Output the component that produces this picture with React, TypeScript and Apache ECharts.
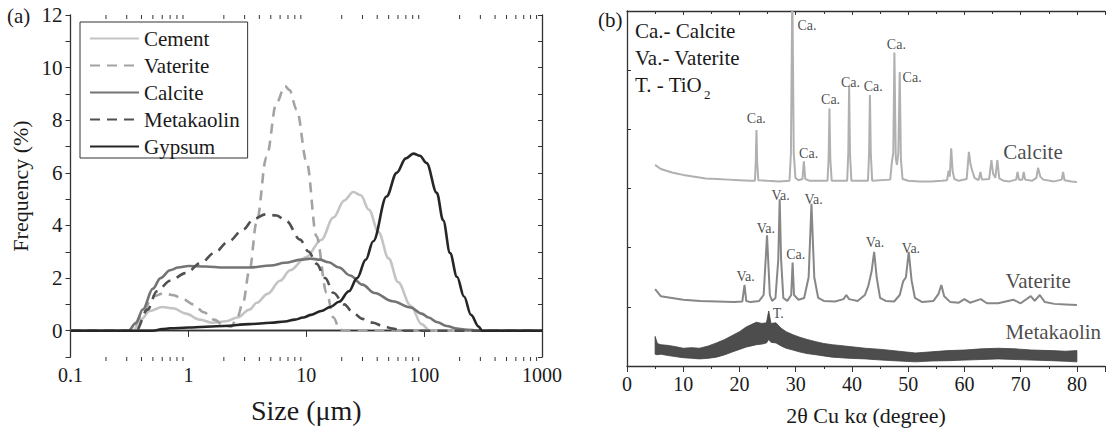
import React, { useEffect, useRef } from 'react';
import * as echarts from 'echarts';

const FONT = 'Liberation Serif';

// ---------- Panel (a): particle size distribution ----------
const seriesNamesA = ['Cement', 'Vaterite', 'Calcite', 'Metakaolin', 'Gypsum'];

const cement: [number, number][] = [
  [0.1, 0], [0.34, 0], [0.4, 0.45], [0.47, 0.75], [0.6, 0.9], [0.75, 0.85], [0.95, 0.65],
  [1.25, 0.42], [1.6, 0.3], [2.1, 0.36], [2.6, 0.5], [3.3, 0.8], [3.8, 1.06], [4.7, 1.4],
  [6, 1.9], [7.3, 2.3], [10, 2.8], [13.4, 3.45], [17, 4.3], [21, 4.95], [25, 5.27],
  [29, 5.15], [34, 4.6], [41, 3.75], [50, 2.75], [60, 1.85], [77, 0.95], [95, 0.25],
  [112, 0], [1000, 0],
];
const vaterite: [number, number][] = [
  [0.1, 0], [0.33, 0], [0.4, 0.6], [0.5, 1.3], [0.62, 1.42], [0.75, 1.35], [0.9, 1.2],
  [1.1, 1.0], [1.35, 0.7], [1.65, 0.42], [2.0, 0.2], [2.3, 0.15], [2.6, 0.5], [2.9, 1.05],
  [3.3, 2.3], [3.8, 4.15], [4.6, 6.6], [5.6, 8.67], [6.6, 9.3], [7.2, 9.15], [8.3, 8.4],
  [10.1, 6.4], [12.2, 3.6], [14.9, 1.44], [17, 0.5], [19.3, 0.04], [21, 0], [1000, 0],
];
const calcite: [number, number][] = [
  [0.1, 0], [0.31, 0], [0.36, 0.3], [0.41, 0.8], [0.5, 1.6], [0.58, 2.0], [0.7, 2.3],
  [0.82, 2.4], [1.0, 2.46], [1.4, 2.44], [2, 2.4], [3.3, 2.4], [5, 2.48], [6.6, 2.58],
  [9, 2.7], [10.9, 2.74], [13, 2.7], [15.5, 2.6], [19, 2.4], [23.5, 2.1], [30, 1.75],
  [38, 1.43], [54, 1.12], [77, 0.88], [95, 0.65], [109, 0.5], [130, 0.32], [155, 0.18],
  [190, 0.08], [219, 0.04], [300, 0], [1000, 0],
];
const metakaolin: [number, number][] = [
  [0.1, 0], [0.36, 0], [0.45, 0.8], [0.54, 1.5], [0.7, 1.9], [0.95, 2.19], [1.3, 2.6],
  [1.65, 2.95], [2.2, 3.4], [2.9, 3.84], [3.6, 4.25], [4.5, 4.42], [5.6, 4.38], [6.8, 4.16],
  [8.85, 3.46], [10.5, 3.0], [12.2, 2.55], [14.5, 2.0], [17, 1.44], [21, 1.0], [25, 0.68],
  [30, 0.45], [37, 0.3], [45, 0.17], [54, 0.08], [65, 0], [1000, 0],
];
const gypsum: [number, number][] = [
  [0.1, 0], [0.5, 0], [0.6, 0.06], [0.7, 0.09], [1, 0.12], [2, 0.18], [3.3, 0.25], [5, 0.3],
  [6.6, 0.35], [8, 0.42], [9.4, 0.5], [11, 0.6], [13.4, 0.75], [16, 0.9], [19, 1.1],
  [23, 1.5], [27, 2.0], [32, 2.7], [37, 3.4], [48, 5.1], [58.5, 6.0], [70, 6.55], [81, 6.73],
  [92, 6.65], [105, 6.37], [128, 5.24], [145, 4.2], [166, 2.95], [190, 2.05], [218, 1.3],
  [250, 0.6], [290, 0.16], [310, 0], [1000, 0],
];

// ---------- Panel (b): XRD patterns (offset intensities) ----------
const xrdCalcite: [number, number][] = [
  [5, 3.4], [6, 3.33], [7, 3.3], [8, 3.27], [9, 3.25], [10, 3.23], [12, 3.2], [14, 3.17],
  [16, 3.16], [18, 3.15], [20, 3.14], [22, 3.13], [22.75, 3.13], [22.9, 3.45], [23.02, 3.99],
  [23.15, 3.45], [23.35, 3.14], [25, 3.13], [27, 3.12], [28.9, 3.13], [29.15, 3.6], [29.4, 6.4],
  [29.65, 3.6], [29.95, 3.18], [30.5, 3.14], [31.2, 3.16], [31.45, 3.46], [31.7, 3.16],
  [32.5, 3.13], [35.65, 3.13], [35.85, 3.5], [36.0, 4.35], [36.15, 3.5], [36.4, 3.13],
  [39.15, 3.13], [39.35, 3.6], [39.5, 4.73], [39.65, 3.6], [39.9, 3.13], [42.85, 3.13],
  [43.05, 3.6], [43.2, 4.58], [43.35, 3.6], [43.6, 3.13], [46.8, 3.15], [47.1, 3.45],
  [47.35, 3.6], [47.55, 5.3], [47.8, 3.5], [48.0, 3.4], [48.25, 3.6], [48.5, 4.97],
  [48.7, 3.5], [49.0, 3.16], [50, 3.13], [52, 3.12], [54, 3.12], [56, 3.13], [56.9, 3.14],
  [57.2, 3.3], [57.4, 3.2], [57.65, 3.68], [57.9, 3.3], [58.2, 3.16], [59, 3.13], [60.4, 3.16],
  [60.8, 3.62], [61.1, 3.4], [61.4, 3.3], [61.8, 3.18], [62.5, 3.14], [62.85, 3.28],
  [63.1, 3.15], [64.4, 3.16], [64.8, 3.48], [65.1, 3.25], [65.5, 3.18], [65.85, 3.48],
  [66.2, 3.17], [67, 3.13], [68, 3.12], [69.2, 3.15], [69.45, 3.28], [69.7, 3.15],
  [70.3, 3.15], [70.55, 3.28], [70.8, 3.15], [72, 3.13], [72.8, 3.18], [73.1, 3.35],
  [73.5, 3.2], [74, 3.15], [76, 3.12], [77.3, 3.15], [77.55, 3.28], [77.8, 3.14],
  [79, 3.12], [80, 3.11],
];
const xrdVaterite: [number, number][] = [
  [5, 1.3], [6, 1.18], [8, 1.15], [10, 1.12], [13, 1.1], [16, 1.09], [19, 1.08], [20.5, 1.09],
  [20.9, 1.37], [21.2, 1.1], [22, 1.08], [23.5, 1.1], [24.3, 1.2], [24.9, 2.21], [25.4, 1.2],
  [25.8, 1.1], [26.4, 1.15], [26.9, 1.8], [27.15, 2.82], [27.4, 1.8], [27.8, 1.15], [28.5, 1.1],
  [29.2, 1.2], [29.45, 1.75], [29.7, 1.2], [30.5, 1.12], [31.5, 1.15], [32.3, 1.5],
  [32.8, 2.74], [33.3, 1.5], [34, 1.15], [35, 1.1], [37, 1.09], [38.5, 1.13], [39, 1.2],
  [39.5, 1.13], [41, 1.1], [42.3, 1.2], [42.9, 1.35], [43.5, 1.6], [43.95, 1.93],
  [44.4, 1.5], [45, 1.15], [46, 1.1], [47.5, 1.09], [48.5, 1.2], [49.1, 1.43], [49.6, 1.5],
  [50.1, 1.93], [50.6, 1.45], [51.2, 1.15], [52.5, 1.08], [54.5, 1.1], [55.4, 1.22],
  [55.9, 1.37], [56.4, 1.18], [57.5, 1.08], [59, 1.07], [60, 1.13], [61, 1.07], [62.9, 1.13],
  [64, 1.06], [66, 1.06], [68.7, 1.12], [70, 1.06], [71.8, 1.18], [72.5, 1.1], [73.4, 1.2],
  [74.3, 1.08], [76, 1.05], [78, 1.04], [80, 1.03],
];
// metakaolin: noisy band, lower and upper edges
const mkAngle = [5, 5.4, 6, 7.1, 8.5, 10, 11.5, 12.9, 14.5, 15.9, 17.4, 18.8, 20, 21.2, 22.1, 23, 24, 24.8, 25.2, 25.6, 26.5, 27.4, 28.3, 29.5, 30.6, 32, 33.6, 35, 36.5, 39.5, 42.4, 45.3, 48.3, 51.3, 54.2, 57.1, 60.1, 63, 66, 69, 71.9, 75.5, 78, 80];
const mkLow = [0.2, 0.19, 0.2, 0.18, 0.16, 0.14, 0.13, 0.12, 0.13, 0.15, 0.19, 0.24, 0.28, 0.32, 0.34, 0.36, 0.37, 0.39, 0.45, 0.4, 0.39, 0.34, 0.3, 0.27, 0.24, 0.21, 0.19, 0.17, 0.15, 0.13, 0.12, 0.1, 0.085, 0.07, 0.085, 0.09, 0.1, 0.11, 0.12, 0.11, 0.1, 0.09, 0.08, 0.07];
const mkHigh = [0.5, 0.38, 0.36, 0.35, 0.33, 0.3, 0.31, 0.3, 0.34, 0.39, 0.45, 0.52, 0.58, 0.66, 0.7, 0.74, 0.72, 0.73, 0.93, 0.72, 0.73, 0.64, 0.58, 0.53, 0.49, 0.45, 0.41, 0.38, 0.36, 0.33, 0.3, 0.28, 0.25, 0.22, 0.24, 0.26, 0.27, 0.29, 0.3, 0.29, 0.27, 0.26, 0.25, 0.26];

const peakLabels: [number, number, string][] = [
  [23.0, 4.19, 'Ca.'], [32.0, 5.76, 'Ca.'], [32.3, 3.6, 'Ca.'], [36.2, 4.5, 'Ca.'],
  [39.75, 4.8, 'Ca.'], [43.8, 4.73, 'Ca.'], [47.9, 5.44, 'Ca.'], [50.7, 4.87, 'Ca.'],
  [21.1, 1.51, 'Va.'], [24.7, 2.33, 'Va.'], [27.3, 2.89, 'Va.'], [30.0, 1.88, 'Ca.'],
  [33.2, 2.82, 'Va.'], [44.1, 2.08, 'Va.'], [50.5, 1.98, 'Va.'], [26.9, 0.88, 'T.'],
];
const patternLabels: [number, number, string][] = [
  [72.2, 3.62, 'Calcite'], [73.1, 1.44, 'Vaterite'], [75.8, 0.58, 'Metakaolin'],
];

const App: React.FC = () => {
  const ref = useRef<HTMLDivElement>(null);
  useEffect(() => {
    if (!ref.current) return;
    const chart = echarts.init(ref.current, undefined, { renderer: 'svg' });

    const logMinor: number[] = [];
    [0.1, 1, 10, 100].forEach((d) => {
      for (let k = 2; k <= 9; k++) logMinor.push(+(k * d).toPrecision(3));
    });

    const axisColor = '#333';
    const txt = '#1a1a1a';
    const colorsA = ['#c4c4c4', '#a3a3a3', '#747474', '#505050', '#262626'];
    const dataA = [cement, vaterite, calcite, metakaolin, gypsum];
    const dashed = [false, true, false, true, false];

    const option: any = {
      animation: false,
      grid: [
        { left: 70.5, top: 15, width: 471.5, height: 342, containLabel: false },
        { left: 627, top: 11, width: 481, height: 355, containLabel: false },
      ],
      legend: {
        data: seriesNamesA,
        orient: 'vertical',
        left: 80,
        top: 22,
        itemWidth: 49,
        itemHeight: 14,
        itemGap: 6,
        padding: [6, 8, 1, 9],
        borderColor: '#333',
        borderWidth: 1,
        borderRadius: 0,
        itemStyle: { opacity: 0 },
        textStyle: { fontFamily: FONT, fontSize: 21, color: txt, width: 96 },
      },
      xAxis: [
        {
          type: 'log', gridIndex: 0, min: 0.1, max: 1000, logBase: 10, position: 'bottom',
          axisLine: { lineStyle: { color: axisColor, width: 1.3 } },
          axisTick: { inside: false, length: 6, lineStyle: { color: axisColor } },
          axisLabel: {
            fontFamily: FONT, fontSize: 20, color: txt, margin: 8,
            formatter: (v: number) => (v < 1 ? '0.1' : String(Math.round(v))),
          },
          splitLine: { show: false },
          name: 'Size (μm)', nameLocation: 'middle', nameGap: 39,
          nameTextStyle: { fontFamily: FONT, fontSize: 28, color: txt },
        },
        {
          type: 'log', gridIndex: 0, min: 0.1, max: 1000, logBase: 10, position: 'top',
          axisLine: { lineStyle: { color: axisColor, width: 1.3 } },
          axisTick: { inside: true, length: 6, lineStyle: { color: axisColor } },
          axisLabel: { show: false }, splitLine: { show: false },
        },
        {
          type: 'value', gridIndex: 1, min: 0, max: 85, interval: 10, position: 'bottom',
          axisLine: { lineStyle: { color: axisColor, width: 1.3 } },
          axisTick: { inside: false, length: 6, lineStyle: { color: axisColor } },
          minorTick: { show: true, splitNumber: 2, length: 3, lineStyle: { color: axisColor } },
          axisLabel: {
            fontFamily: FONT, fontSize: 20, color: txt, margin: 8,
            formatter: (v: number) => (v % 10 === 0 && v <= 80 ? String(v) : ''),
          },
          splitLine: { show: false }, minorSplitLine: { show: false },
          name: '2θ Cu kα (degree)', nameLocation: 'middle', nameGap: 38,
          nameTextStyle: { fontFamily: FONT, fontSize: 22, color: txt },
        },
        {
          type: 'value', gridIndex: 1, min: 0, max: 85, interval: 10, position: 'top',
          axisLine: { lineStyle: { color: axisColor, width: 1.3 } },
          axisTick: { inside: true, length: 4, lineStyle: { color: axisColor } },
          minorTick: { show: true, splitNumber: 2, length: 3, lineStyle: { color: axisColor } },
          axisLabel: { show: false }, splitLine: { show: false }, minorSplitLine: { show: false },
        },
      ],
      yAxis: [
        {
          type: 'value', gridIndex: 0, min: -1, max: 12, interval: 1, position: 'left',
          axisLine: { show: true, lineStyle: { color: axisColor, width: 1.3 } },
          axisTick: { show: true, inside: false, length: 5, lineStyle: { color: axisColor } },
          axisLabel: {
            fontFamily: FONT, fontSize: 21, color: txt, margin: 8,
            formatter: (v: number) => (v >= 0 && v % 2 === 0 ? String(v) : ''),
          },
          splitLine: { show: false },
          name: 'Frequency (%)', nameLocation: 'middle', nameGap: 39,
          nameTextStyle: { fontFamily: FONT, fontSize: 22, color: txt },
        },
        {
          type: 'value', gridIndex: 0, min: -1, max: 12, interval: 1, position: 'right',
          axisLine: { show: true, lineStyle: { color: axisColor, width: 1.3 } },
          axisTick: { show: true, inside: true, length: 4, lineStyle: { color: axisColor } },
          axisLabel: { show: false }, splitLine: { show: false },
        },
        {
          type: 'value', gridIndex: 1, min: 0, max: 6, interval: 1, position: 'left',
          axisLine: { show: true, lineStyle: { color: axisColor, width: 1.3 } },
          axisTick: { show: true, inside: true, length: 4, lineStyle: { color: axisColor } },
          axisLabel: { show: false }, splitLine: { show: false },
        },
      ],
      series: [
        ...seriesNamesA.map((name, i) => ({
          name,
          type: 'line',
          xAxisIndex: 0,
          yAxisIndex: 0,
          data: dataA[i],
          smooth: 0.35,
          smoothMonotone: 'x',
          symbol: 'none',
          lineStyle: { color: colorsA[i], width: 2.6, type: dashed[i] ? [10, 7] : 'solid' },
          itemStyle: { color: colorsA[i] },
          z: 3 + i,
        })),
        {
          type: 'custom', xAxisIndex: 0, yAxisIndex: 0, silent: true, clip: false,
          data: logMinor.map((v) => [v, 0]),
          encode: { x: 0, y: 1 },
          renderItem: (_p: any, api: any) => {
            const v = api.value(0);
            const b = api.coord([v, -1]);
            const t = api.coord([v, 12]);
            return {
              type: 'group',
              children: [
                { type: 'line', shape: { x1: b[0], y1: b[1], x2: b[0], y2: b[1] + 4 }, style: { stroke: axisColor, lineWidth: 1 } },
                { type: 'line', shape: { x1: t[0], y1: t[1], x2: t[0], y2: t[1] + 4 }, style: { stroke: axisColor, lineWidth: 1 } },
              ],
            };
          },
        },
        {
          name: 'xrdCalcite', type: 'line', xAxisIndex: 2, yAxisIndex: 2, data: xrdCalcite,
          symbol: 'none', lineStyle: { color: '#b0b0b0', width: 2 }, clip: true, z: 3,
        },
        {
          name: 'xrdVaterite', type: 'line', xAxisIndex: 2, yAxisIndex: 2, data: xrdVaterite,
          symbol: 'none', lineStyle: { color: '#878787', width: 2 }, clip: true, z: 3,
        },
        {
          name: 'xrdMetakaolin', type: 'custom', xAxisIndex: 2, yAxisIndex: 2, silent: true,
          data: [[mkAngle[0], mkLow[0]]],
          encode: { x: 0, y: 1 },
          renderItem: (_p: any, api: any) => {
            const upper = mkAngle.map((a, i) => api.coord([a, mkHigh[i]]));
            const lower = mkAngle.map((a, i) => api.coord([a, mkLow[i]])).reverse();
            return {
              type: 'polygon',
              shape: { points: upper.concat(lower) },
              style: { fill: '#4d4d4d', stroke: '#404040', lineWidth: 0.8 },
            };
          },
          z: 3,
        },
        {
          name: 'labels', type: 'scatter', xAxisIndex: 2, yAxisIndex: 2, silent: true,
          symbolSize: 1, itemStyle: { color: 'rgba(0,0,0,0)' }, z: 10,
          data: [
            ...peakLabels.map(([x, y, t]) => ({
              value: [x, y],
              label: { show: true, position: 'inside', formatter: t, fontFamily: FONT, fontSize: 14, color: txt },
            })),
            ...patternLabels.map(([x, y, t]) => ({
              value: [x, y],
              label: { show: true, position: 'inside', formatter: t, fontFamily: FONT, fontSize: 21, color: txt },
            })),
          ],
        },
      ],
      graphic: [
        { type: 'text', left: 7, top: 5, style: { text: '(a)', fontFamily: FONT, fontSize: 21, fill: txt } },
        { type: 'text', left: 598, top: 9, style: { text: '(b)', fontFamily: FONT, fontSize: 21, fill: txt } },
        { type: 'text', left: 635, top: 20, style: { text: 'Ca.- Calcite', fontFamily: FONT, fontSize: 21, fill: txt } },
        { type: 'text', left: 635, top: 47, style: { text: 'Va.- Vaterite', fontFamily: FONT, fontSize: 21, fill: txt } },
        { type: 'text', left: 635, top: 74, style: { text: 'T. - TiO', fontFamily: FONT, fontSize: 21, fill: txt } },
        { type: 'text', left: 704, top: 88, style: { text: '2', fontFamily: FONT, fontSize: 13, fill: txt } },
      ],
    };

    chart.setOption(option);
    return () => chart.dispose();
  }, []);

  return (
    <div
      ref={ref}
      style={{ position: 'absolute', left: 0, top: 0, width: 1108, height: 431, background: '#fff' }}
    />
  );
};

export default App;
